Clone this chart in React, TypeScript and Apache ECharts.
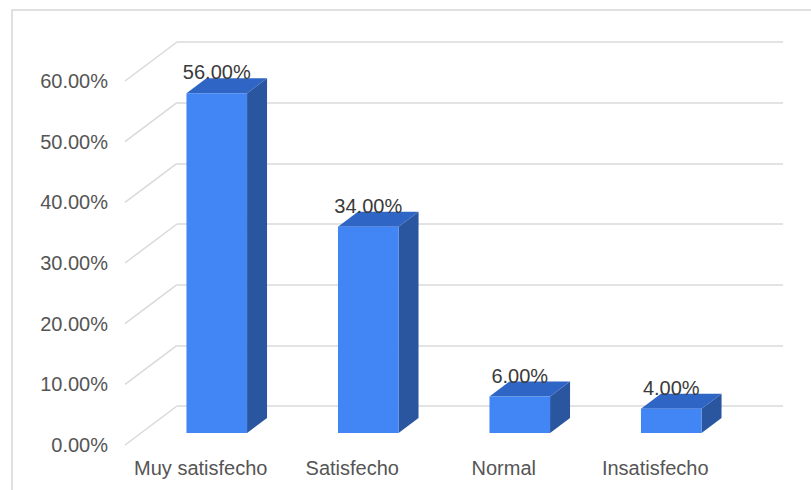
import React, { useEffect, useRef } from "react";
import * as echarts from "echarts";

const categories = ["Muy satisfecho", "Satisfecho", "Normal", "Insatisfecho"];
const values = [0.56, 0.34, 0.06, 0.04];
const yTicks = [0, 0.1, 0.2, 0.3, 0.4, 0.5, 0.6];

const FONT = "'Liberation Sans', Arial, sans-serif";
const DX = 52; // floor depth (x)
const DY = 39; // floor depth (y)
const F0 = 0.308; // bar front depth fraction
const F1 = 0.692; // bar back depth fraction

const pct = (v: number) => (v * 100).toFixed(2) + "%";

export default function App() {
  const ref = useRef<HTMLDivElement>(null);
  useEffect(() => {
    if (!ref.current) return;
    const chart = echarts.init(ref.current, null, { renderer: "svg" });
    const option: any = {
      animation: false,
      backgroundColor: "#ffffff",
      graphic: [
        {
          type: "rect",
          shape: { x: 12, y: 10, width: 900, height: 600 },
          style: { fill: "none", stroke: "#d6d6d6", lineWidth: 1.5 },
          silent: true,
        },
      ],
      grid: [
        { left: 177, right: 28, top: 42, bottom: 84 },
        { left: 125, right: 80, top: 81, bottom: 45 },
      ],
      xAxis: [
        {
          gridIndex: 0,
          type: "category",
          data: categories,
          show: false,
        },
        {
          gridIndex: 1,
          type: "category",
          data: categories,
          axisLine: { show: false },
          axisTick: { show: false },
          axisLabel: {
            interval: 0,
            hideOverlap: false,
            fontSize: 20,
            color: "#555555",
            fontFamily: FONT,
            margin: 13,
          },
        },
      ],
      yAxis: [
        {
          gridIndex: 0,
          type: "value",
          min: 0,
          max: 0.6,
          interval: 0.1,
          axisLabel: { show: false },
          axisLine: { show: false },
          axisTick: { show: false },
          splitLine: { lineStyle: { color: "#dadada", width: 1.5 } },
        },
        {
          gridIndex: 1,
          type: "value",
          min: 0,
          max: 0.6,
          interval: 0.1,
          axisLine: { show: false },
          axisTick: { show: false },
          splitLine: { show: false },
          axisLabel: {
            fontSize: 20,
            color: "#555555",
            fontFamily: FONT,
            margin: 17,
            formatter: (v: number) => pct(v),
          },
        },
      ],
      series: [
        {
          type: "custom",
          xAxisIndex: 1,
          yAxisIndex: 1,
          silent: true,
          clip: false,
          z: 1,
          data: yTicks.map((t) => [0, t]),
          encode: { x: 0, y: 1 },
          renderItem: (params: any, api: any) => {
            const p = api.coord([0, api.value(1)]);
            const x0 = params.coordSys.x;
            return {
              type: "line",
              shape: { x1: x0, y1: p[1], x2: x0 + DX, y2: p[1] - DY },
              style: { stroke: "#dadada", lineWidth: 1.5 },
            };
          },
        },
        {
          type: "custom",
          xAxisIndex: 1,
          yAxisIndex: 1,
          silent: true,
          clip: false,
          z: 3,
          data: values.map((v, i) => [i, v]),
          encode: { x: 0, y: 1 },
          renderItem: (params: any, api: any) => {
            const i = api.value(0);
            const v = api.value(1);
            const top = api.coord([i, v]);
            const base = api.coord([i, 0]);
            const band = api.size([1, 0])[0];
            const w = band * 0.4;
            const ox = F0 * DX;
            const oy = -F0 * DY;
            const dx = (F1 - F0) * DX;
            const dy = (F1 - F0) * DY;
            const x0 = top[0] - w / 2 + ox;
            const x1 = x0 + w;
            const yT = top[1] + oy;
            const yB = base[1] + oy;
            return {
              type: "group",
              children: [
                {
                  type: "polygon",
                  shape: { points: [[x1, yT], [x1 + dx, yT - dy], [x1 + dx, yB - dy], [x1, yB]] },
                  style: { fill: "#2A559F" },
                },
                {
                  type: "polygon",
                  shape: { points: [[x0, yT], [x1, yT], [x1 + dx, yT - dy], [x0 + dx, yT - dy]] },
                  style: { fill: "#2F65C4" },
                },
                {
                  type: "polygon",
                  shape: { points: [[x0, yT], [x1, yT], [x1, yB], [x0, yB]] },
                  style: { fill: "#4285F4" },
                },
                {
                  type: "text",
                  style: {
                    x: (x0 + x1) / 2,
                    y: yT - 21,
                    text: pct(v),
                    fill: "#3a3a3a",
                    font: `20px ${FONT}`,
                    align: "center",
                    verticalAlign: "middle",
                  },
                },
              ],
            };
          },
        },
      ],
    };
    chart.setOption(option);
    return () => chart.dispose();
  }, []);
  return (
    <div
      ref={ref}
      style={{ position: "fixed", left: 0, top: 0, width: 811, height: 490 }}
    />
  );
}
